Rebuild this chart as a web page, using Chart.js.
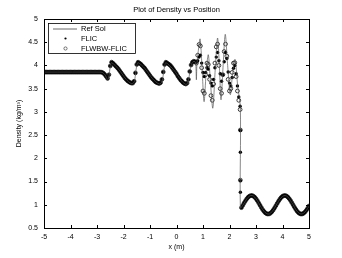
<!DOCTYPE html>
<html>
<head>
<meta charset="utf-8">
<script src="https://cdn.jsdelivr.net/npm/chart.js@4"></script>
<style>
  html, body { margin: 0; padding: 0; background: #fff; }
  #wrap { width: 342px; height: 258px; }
</style>
</head>
<body>
<div id="wrap"><canvas id="canvas" width="342" height="258"></canvas></div>
<script>
// grid of the numerical solutions
const x0 = -5;
const dx = 0.05;

// left state, x = -5.00 .. -2.85
const leftFlat = [
  3.857, 3.857, 3.857, 3.857, 3.857, 3.857, 3.857, 3.857, 3.857, 3.857, 3.857,
  3.857, 3.857, 3.857, 3.857, 3.857, 3.857, 3.857, 3.857, 3.857, 3.857, 3.857,
  3.857, 3.857, 3.857, 3.857, 3.857, 3.857, 3.857, 3.857, 3.857, 3.857, 3.857,
  3.857, 3.857, 3.857, 3.857, 3.857, 3.857, 3.857, 3.857, 3.857, 3.857, 3.857
];

// entropy waves behind the shock, x = -2.80 .. 0.70
const waveZone = [
  3.85, 3.83, 3.80, 3.76, 3.72, 3.80, 3.99, 4.07, 4.05,
  4.02, 3.99, 3.96, 3.93, 3.89, 3.85, 3.81, 3.77, 3.73, 3.70, 3.67, 3.65, 3.63, 3.62, 3.62, 3.66,
  3.84, 4.02, 4.07, 4.05, 4.03, 4.00, 3.97, 3.94, 3.90, 3.86, 3.82, 3.78, 3.74, 3.71, 3.68, 3.65, 3.63, 3.62, 3.61, 3.63,
  3.70, 3.86, 4.02, 4.07, 4.05, 4.03, 4.01, 3.98, 3.94, 3.90, 3.86, 3.82, 3.77, 3.73, 3.69, 3.66, 3.63, 3.61, 3.60, 3.62, 3.70, 3.87, 4.01, 4.07, 4.09, 4.08
];

// high frequency zone, x = 0.75 .. 2.40
const flicOsc = [
  4.07, 4.10, 4.18, 4.22, 4.05, 3.85, 3.76, 3.85, 3.95, 3.92, 3.78, 3.62, 3.56, 3.70, 3.95,
  4.18, 4.28, 4.10, 3.82, 3.66, 3.80, 4.08, 4.28, 4.15, 3.86, 3.62, 3.56, 3.74, 3.94, 4.00,
  3.82, 3.56, 3.32, 3.12
];
const flwOsc = [
  4.05, 4.22, 4.45, 4.42, 3.95, 3.45, 3.40, 3.80, 4.05, 4.02, 3.70, 3.35, 3.25, 3.60, 4.05,
  4.40, 4.46, 4.00, 3.50, 3.40, 3.80, 4.30, 4.46, 4.20, 3.70, 3.45, 3.50, 3.85, 4.05, 4.06,
  3.76, 3.45, 3.25, 3.05
];

// undisturbed right state, x = 2.45 .. 5.00
const rightState = [
  0.938, 0.987, 1.037, 1.084, 1.126, 1.161, 1.185, 1.198, 1.199, 1.187, 1.164,
  1.130, 1.089, 1.041, 0.992, 0.942, 0.896, 0.858, 0.827, 0.808, 0.800,
  0.805, 0.821, 0.850, 0.887, 0.932, 0.980, 1.030, 1.078, 1.121, 1.157,
  1.183, 1.197, 1.199, 1.189, 1.167, 1.134, 1.094, 1.047, 0.998, 0.949,
  0.903, 0.862, 0.831, 0.809, 0.800, 0.804, 0.819, 0.846, 0.882, 0.926, 0.974
];

// cells inside the shock
const shockX = 2.41;
const flicShock = [2.60, 2.13, 1.52, 1.27];
const flwShock = [2.61, 1.53];

// reference solution
const refX = [
  -5, -2.85, -2.8, -2.7, -2.6, -2.55, -2.5, -2.45, -2.2, -1.9, -1.7, -1.6, -1.55, -1.5, -1.45,
  -1.2, -0.9, -0.65, -0.55, -0.5, -0.45, -0.4, -0.1, 0.2, 0.37, 0.45, 0.5, 0.55, 0.62, 0.7,
  0.73, 0.75, 0.77, 0.82, 0.89, 0.96, 1.04, 1.12, 1.2, 1.28, 1.37, 1.46, 1.55, 1.62, 1.68,
  1.76, 1.84, 1.93, 2.03, 2.12, 2.21, 2.31, 2.41, 2.41,
  2.5, 2.6, 2.7, 2.8, 2.9, 3.0, 3.1, 3.2, 3.3, 3.4, 3.5, 3.6, 3.7, 3.8, 3.9,
  4.0, 4.1, 4.2, 4.3, 4.4, 4.5, 4.6, 4.7, 4.8, 4.9, 5.0
];
const refY = [
  3.857, 3.857, 3.85, 3.80, 3.70, 3.75, 4.00, 4.06, 3.93, 3.70, 3.61, 3.64, 3.80, 4.00, 4.06,
  3.94, 3.71, 3.60, 3.65, 3.80, 3.98, 4.06, 3.90, 3.66, 3.59, 3.68, 3.85, 4.00, 4.08, 4.08,
  4.02, 3.69, 4.02, 4.30, 4.57, 4.00, 3.22, 3.85, 4.23, 3.65, 3.08, 3.90, 4.59, 3.95, 3.26,
  4.00, 4.67, 4.00, 3.37, 3.85, 4.13, 3.55, 3.08, 0.93,
  0.99, 1.08, 1.16, 1.20, 1.19, 1.13, 1.04, 0.94, 0.86, 0.81, 0.80, 0.85, 0.93, 1.03, 1.12,
  1.18, 1.20, 1.17, 1.09, 1.00, 0.90, 0.83, 0.80, 0.82, 0.88, 0.97
];

const xTicks = [-5, -4, -3, -2, -1, 0, 1, 2, 3, 4, 5];
const yTicks = [0.5, 1, 1.5, 2, 2.5, 3, 3.5, 4, 4.5, 5];

const FONT = "'Liberation Sans', Arial, sans-serif";

function toPoints(ys) {
  return ys.map((y, i) => ({ x: +(x0 + i * dx).toFixed(2), y: y }));
}
const flicY = [...leftFlat, ...waveZone, ...flicOsc, ...rightState];
const flwY = [...leftFlat, ...waveZone, ...flwOsc, ...rightState];
const flicPts = toPoints(flicY).concat(flicShock.map(y => ({ x: shockX, y: y })));
const flwPts = toPoints(flwY).concat(flwShock.map(y => ({ x: shockX, y: y })));
const refPts = refX.map((x, i) => ({ x: x, y: refY[i] }));

// box, inward ticks, titles and legend in matlab style
const matlabFrame = {
  id: 'matlabFrame',
  afterDraw(chart) {
    const ctx = chart.ctx;
    const a = chart.chartArea;
    const sx = chart.scales.x, sy = chart.scales.y;
    ctx.save();
    ctx.strokeStyle = '#000';
    ctx.lineWidth = 1;
    ctx.strokeRect(a.left + 0.5, a.top + 0.5, a.right - a.left, a.bottom - a.top);
    ctx.beginPath();
    xTicks.forEach(v => {
      const px = Math.round(sx.getPixelForValue(v)) + 0.5;
      ctx.moveTo(px, a.bottom); ctx.lineTo(px, a.bottom - 3);
      ctx.moveTo(px, a.top); ctx.lineTo(px, a.top + 3);
    });
    yTicks.forEach(v => {
      const py = Math.round(sy.getPixelForValue(v)) + 0.5;
      ctx.moveTo(a.left, py); ctx.lineTo(a.left + 3, py);
      ctx.moveTo(a.right, py); ctx.lineTo(a.right - 3, py);
    });
    ctx.stroke();

    ctx.fillStyle = '#000';
    ctx.textAlign = 'center';
    ctx.textBaseline = 'middle';
    ctx.font = '7.5px ' + FONT;
    ctx.fillText('Plot of Density vs Position', (a.left + a.right) / 2, 10);
    ctx.font = '7px ' + FONT;
    ctx.fillText('x (m)', (a.left + a.right) / 2, 247);
    ctx.save();
    ctx.translate(19, (a.top + a.bottom) / 2);
    ctx.rotate(-Math.PI / 2);
    ctx.fillText('Density (kg/m\u00B3)', 0, 0);
    ctx.restore();

    // legend
    ctx.fillStyle = '#fff';
    ctx.fillRect(48.5, 23.5, 87, 30);
    ctx.lineWidth = 0.8;
    ctx.strokeStyle = '#000';
    ctx.strokeRect(48.5, 23.5, 87, 30);
    ctx.strokeStyle = '#444';
    ctx.lineWidth = 0.8;
    ctx.beginPath();
    ctx.moveTo(53, 29); ctx.lineTo(77, 29);
    ctx.stroke();
    ctx.fillStyle = '#000';
    ctx.beginPath();
    ctx.arc(65.5, 38.5, 1.1, 0, Math.PI * 2);
    ctx.fill();
    ctx.strokeStyle = '#222';
    ctx.lineWidth = 0.6;
    ctx.beginPath();
    ctx.arc(65.5, 48.5, 1.6, 0, Math.PI * 2);
    ctx.stroke();
    ctx.textAlign = 'left';
    ctx.font = '7.5px ' + FONT;
    ctx.fillText('Ref Sol', 81, 29);
    ctx.fillText('FLIC', 81, 38.5);
    ctx.fillText('FLWBW-FLIC', 81, 48.5);
    ctx.restore();
  }
};

const data = {
  datasets: [
    {
      label: 'Ref Sol',
      data: refPts,
      showLine: true,
      borderColor: '#555',
      borderWidth: 0.7,
      pointRadius: 0,
      tension: 0.3
    },
    {
      label: 'FLIC',
      data: flicPts,
      showLine: false,
      pointRadius: 1.7,
      pointBorderWidth: 0,
      pointBackgroundColor: '#000'
    },
    {
      label: 'FLWBW-FLIC',
      data: flwPts,
      showLine: false,
      pointRadius: 1.9,
      pointBorderWidth: 0.8,
      pointBorderColor: '#111',
      pointBackgroundColor: 'rgba(0,0,0,0)'
    }
  ]
};

const config = {
  type: 'scatter',
  data: data,
  options: {
    responsive: false,
    animation: false,
    devicePixelRatio: 1,
    layout: { padding: { top: 19, right: 33, left: 0, bottom: 0 } },
    plugins: {
      legend: { display: false },
      title: { display: false },
      tooltip: { enabled: false }
    },
    scales: {
      x: {
        type: 'linear',
        min: -5, max: 5,
        afterFit(scale) { scale.height = 30; },
        afterBuildTicks(scale) { scale.ticks = xTicks.map(v => ({ value: v })); },
        grid: { display: false, drawTicks: false },
        border: { display: false },
        ticks: {
          padding: 5,
          color: '#000',
          font: { family: FONT, size: 7 },
          callback: v => String(v)
        }
      },
      y: {
        type: 'linear',
        min: 0.5, max: 5,
        afterFit(scale) { scale.width = 44; },
        afterBuildTicks(scale) { scale.ticks = yTicks.map(v => ({ value: v })); },
        grid: { display: false, drawTicks: false },
        border: { display: false },
        ticks: {
          padding: 6,
          color: '#000',
          font: { family: FONT, size: 7 },
          callback: v => String(v)
        }
      }
    }
  },
  plugins: [matlabFrame]
};

const canvas = document.getElementById('canvas');
const chart = new Chart(canvas, config);
</script>
</body>
</html>
